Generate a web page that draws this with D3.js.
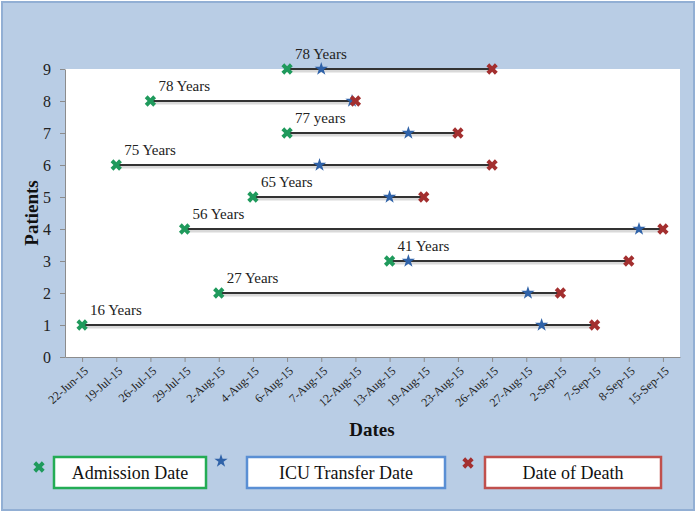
<!DOCTYPE html>
<html>
<head>
<meta charset="utf-8">
<script src="https://cdn.jsdelivr.net/npm/d3@7"></script>
<style>
  body { margin: 0; background: #fff; }
  svg text { font-family: "Liberation Serif", "Times New Roman", Times, "DejaVu Serif", serif; }
</style>
</head>
<body>
<div id="chart"></div>
<script>
// x axis categories (evenly spaced, not a time scale)
const dates = ["22-Jun-15", "19-Jul-15", "26-Jul-15", "29-Jul-15", "2-Aug-15", "4-Aug-15",
    "6-Aug-15", "7-Aug-15", "12-Aug-15", "13-Aug-15", "19-Aug-15", "23-Aug-15",
    "26-Aug-15", "27-Aug-15", "2-Sep-15", "7-Sep-15", "8-Sep-15", "15-Sep-15"];

// per patient 1..9, positions given as category index along the date axis
const patients = [1, 2, 3, 4, 5, 6, 7, 8, 9];
const ages = ["16 Years", "27 Years", "41 Years", "56 Years", "65 Years", "75 Years", "77 years", "78 Years", "78 Years"];
const admission = [0, 4, 9, 3, 5, 1, 6, 2, 6];
const icuTransfer = [13.45, 13.05, 9.55, 16.3, 9, 6.95, 9.55, 7.9, 7];
const death = [15, 14, 16, 17, 10, 12, 11, 8, 12];

const yTicks = [0, 1, 2, 3, 4, 5, 6, 7, 8, 9];
const legendLabels = ["Admission Date", "ICU Transfer Date", "Date of Death"];

const W = 697, H = 514;
const colors = { adm: "#1f9a5c", icu: "#2f62a8", death: "#a32f2f" };
const boxColors = ["#23ac55", "#5a8fd4", "#c0504d"];

const svg = d3.select("#chart").append("svg")
    .attr("width", W)
    .attr("height", H);

// outer chart frame
svg.append("rect")
    .attr("x", 2).attr("y", 2)
    .attr("width", W - 5).attr("height", H - 6)
    .attr("fill", "#b9cde5")
    .attr("stroke", "#92afd4")
    .attr("stroke-width", 2);

const plot = { left: 65, right: 680, top: 69, bottom: 357 };

const idx = d3.range(dates.length);
const xScale = d3.scaleLinear()
    .domain([-0.5, dates.length - 0.5])
    .range([plot.left, plot.right]);

const yScale = d3.scaleLinear()
    .domain([0, 9])
    .range([plot.bottom, plot.top]);

// plot area
svg.append("rect")
    .attr("x", plot.left).attr("y", plot.top)
    .attr("width", plot.right - plot.left)
    .attr("height", plot.bottom - plot.top)
    .attr("fill", "#fff");

// axes
const xAxis = svg.append("g")
    .attr("transform", `translate(0,${plot.bottom})`)
    .call(d3.axisBottom(xScale)
        .tickValues(idx)
        .tickFormat(i => dates[i])
        .tickSize(5)
        .tickSizeOuter(0));

xAxis.attr("font-family", null);
xAxis.selectAll(".tick text")
    .attr("text-anchor", "end")
    .attr("font-size", 12)
    .attr("fill", "#222")
    .attr("dy", 0)
    .attr("transform", "translate(1,9) rotate(-42)");

const yAxis = svg.append("g")
    .attr("transform", `translate(${plot.left},0)`)
    .call(d3.axisLeft(yScale)
        .tickValues(yTicks)
        .tickSize(5)
        .tickPadding(9)
        .tickSizeOuter(0));

yAxis.attr("font-family", null);
yAxis.selectAll(".tick text")
    .attr("font-size", 16)
    .attr("fill", "#222");

svg.selectAll(".domain, .tick line").attr("stroke", "#8c8c8c");

// axis titles
svg.append("text")
    .attr("transform", `translate(38,${(plot.top + plot.bottom) / 2}) rotate(-90)`)
    .attr("text-anchor", "middle")
    .attr("font-size", 19)
    .attr("font-weight", "bold")
    .attr("fill", "#111")
    .text("Patients");

svg.append("text")
    .attr("x", 372).attr("y", 436)
    .attr("text-anchor", "middle")
    .attr("font-size", 19)
    .attr("font-weight", "bold")
    .attr("fill", "#111")
    .text("Dates");

const rows = patients.map((p, i) => ({
    p, age: ages[i], adm: admission[i], icu: icuTransfer[i], death: death[i]
}));

// shadow under lines
svg.append("g").selectAll("line")
    .data(rows).enter().append("line")
    .attr("x1", d => xScale(d.adm))
    .attr("x2", d => xScale(d.death))
    .attr("y1", d => yScale(d.p) + 2)
    .attr("y2", d => yScale(d.p) + 2)
    .attr("stroke", "#d9d9d9")
    .attr("stroke-width", 3);

svg.append("g").selectAll("line")
    .data(rows).enter().append("line")
    .attr("x1", d => xScale(d.adm))
    .attr("x2", d => xScale(d.death))
    .attr("y1", d => yScale(d.p))
    .attr("y2", d => yScale(d.p))
    .attr("stroke", "#333")
    .attr("stroke-width", 1.8);

const xMark = d3.symbol().type(d3.symbolCross).size(80);
const star = d3.symbol().type(d3.symbolStar).size(55);

function drawMarks(key, sym, color, rot) {
    svg.append("g").selectAll("path")
        .data(rows).enter().append("path")
        .attr("d", sym)
        .attr("transform", d => `translate(${xScale(d[key])},${yScale(d.p)}) rotate(${rot})`)
        .attr("fill", color);
}
drawMarks("adm", xMark, colors.adm, 45);
drawMarks("icu", star, colors.icu, 0);
drawMarks("death", xMark, colors.death, 45);

// age labels
svg.append("g").selectAll("text")
    .data(rows).enter().append("text")
    .attr("x", d => xScale(d.adm) + 8)
    .attr("y", d => yScale(d.p) - 10)
    .attr("font-size", 15)
    .attr("fill", "#222")
    .text(d => d.age);

// legend
const legend = [
    { sym: xMark, rot: 45, color: colors.adm, mx: 39, my: 467, bx: 54, bw: 152 },
    { sym: star, rot: 0, color: colors.icu, mx: 221, my: 461, bx: 247, bw: 198 },
    { sym: xMark, rot: 45, color: colors.death, mx: 468, my: 463, bx: 485, bw: 176 }
];
legend.forEach((l, i) => {
    svg.append("path")
        .attr("d", l.sym)
        .attr("transform", `translate(${l.mx},${l.my}) rotate(${l.rot})`)
        .attr("fill", l.color);
    svg.append("rect")
        .attr("x", l.bx).attr("y", 457)
        .attr("width", l.bw).attr("height", 31)
        .attr("fill", "#fff")
        .attr("stroke", boxColors[i])
        .attr("stroke-width", 2.5);
    svg.append("text")
        .attr("x", l.bx + l.bw / 2).attr("y", 479)
        .attr("text-anchor", "middle")
        .attr("font-size", 18)
        .attr("fill", "#111")
        .text(legendLabels[i]);
});
</script>
</body>
</html>
